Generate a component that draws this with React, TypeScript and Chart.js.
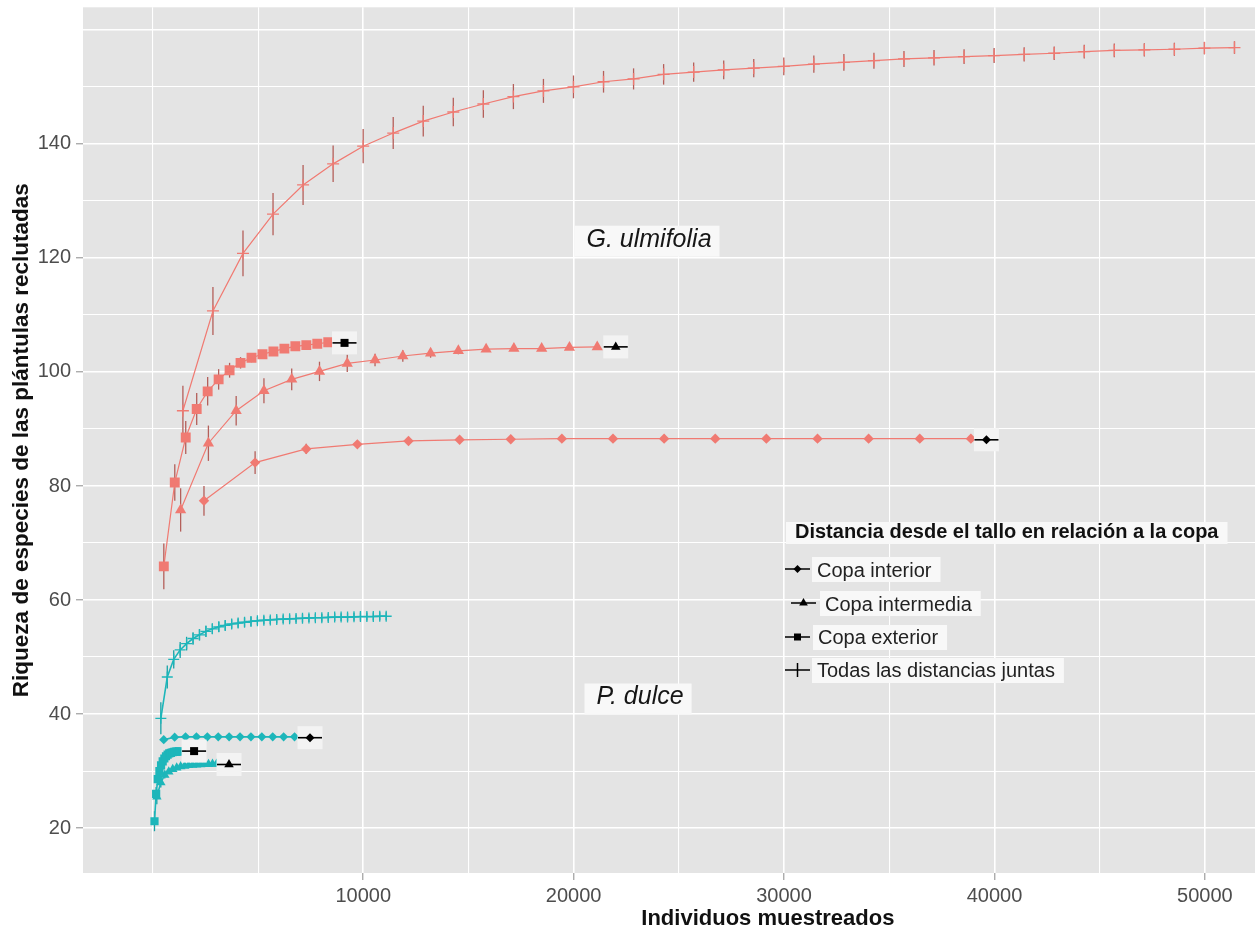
import React, { useEffect, useRef } from 'react';
import { Chart, registerables } from 'chart.js';

Chart.register(...registerables);

const FONT = '"Liberation Sans", Arial, Helvetica, sans-serif';

// ---------- axes ----------
const xGridValues = [0, 5000, 10000, 15000, 20000, 25000, 30000, 35000, 40000, 45000, 50000, 55000, 60000];
const xTickLabels = [10000, 20000, 30000, 40000, 50000];
const yGridValues = [20, 30, 40, 50, 60, 70, 80, 90, 100, 110, 120, 130, 140, 150, 160];
const yTickLabels = [20, 40, 60, 80, 100, 120, 140];
const xTitle = 'Individuos muestreados';
const yTitle = 'Riqueza de especies de las plántulas reclutadas';

// ---------- G. ulmifolia ----------
const gulmTodasX = [1428, 2856, 4284, 5712, 7140, 8568, 9996, 11424, 12852, 14280, 15708, 17136, 18564, 19992, 21420, 22848, 24276, 25704, 27132, 28560, 29988, 31416, 32844, 34272, 35700, 37128, 38556, 39984, 41412, 42840, 44268, 45696, 47124, 48552, 49980, 51408];
const gulmTodasY = [93.2, 110.7, 120.8, 127.7, 132.8, 136.5, 139.6, 141.9, 144.0, 145.6, 147.0, 148.3, 149.3, 150.0, 150.9, 151.4, 152.2, 152.6, 153.0, 153.3, 153.6, 154.0, 154.3, 154.6, 154.9, 155.1, 155.3, 155.5, 155.7, 155.9, 156.2, 156.4, 156.5, 156.6, 156.8, 156.9];
const gulmTodasErr = [4.4, 4.2, 4.0, 3.7, 3.5, 3.2, 3.0, 2.8, 2.7, 2.5, 2.4, 2.2, 2.1, 2.0, 1.9, 1.85, 1.8, 1.7, 1.65, 1.6, 1.55, 1.5, 1.45, 1.4, 1.4, 1.35, 1.3, 1.3, 1.25, 1.2, 1.2, 1.2, 1.15, 1.15, 1.1, 1.1];

const gulmExtX = [521, 1042, 1563, 2084, 2605, 3126, 3647, 4168, 4689, 5210, 5731, 6252, 6773, 7294, 7815, 8336];
const gulmExtY = [65.9, 80.6, 88.5, 93.5, 96.6, 98.7, 100.3, 101.6, 102.5, 103.1, 103.6, 104.1, 104.5, 104.7, 104.95, 105.2];
const gulmExtErr = [4.0, 3.2, 2.9, 2.8, 2.5, 1.8, 1.3, 1.0, 0.8, 0.6, 0.5, 0.4, 0.3, 0.2, 0.1, 0];

const gulmIntX = [1320, 2640, 3960, 5280, 6600, 7920, 9240, 10560, 11880, 13200, 14520, 15840, 17160, 18480, 19800, 21120];
const gulmIntY = [75.8, 87.5, 93.2, 96.7, 98.7, 100.1, 101.5, 102.1, 102.8, 103.3, 103.7, 104.0, 104.1, 104.1, 104.3, 104.4];
const gulmIntErr = [3.8, 3.1, 2.6, 2.2, 1.9, 1.7, 1.5, 1.1, 1.0, 0.8, 0.6, 0.5, 0.4, 0.3, 0.2, 0];

const gulmInnX = [2430, 4860, 7290, 9720, 12150, 14580, 17010, 19440, 21870, 24300, 26730, 29160, 31590, 34020, 36450, 38880];
const gulmInnY = [77.4, 84.1, 86.5, 87.3, 87.9, 88.1, 88.2, 88.3, 88.3, 88.3, 88.3, 88.3, 88.3, 88.3, 88.3, 88.3];
const gulmInnErr = [2.6, 2.0, 0.9, 0.6, 0.4, 0.3, 0.2, 0.1, 0.1, 0, 0, 0, 0, 0, 0, 0];

// ---------- P. dulce ----------
const pdulTodasX = [380, 686, 992, 1298, 1604, 1910, 2216, 2522, 2828, 3134, 3440, 3746, 4052, 4358, 4664, 4970, 5276, 5582, 5888, 6194, 6500, 6806, 7112, 7418, 7724, 8030, 8336, 8642, 8948, 9254, 9560, 9866, 10172, 10478, 10784, 11090];
const pdulTodasY = [39.25, 46.5, 49.6, 51.25, 52.35, 53.25, 53.9, 54.5, 54.95, 55.3, 55.55, 55.8, 55.95, 56.1, 56.25, 56.35, 56.45, 56.5, 56.6, 56.65, 56.7, 56.75, 56.8, 56.85, 56.9, 56.9, 56.95, 57.0, 57.0, 57.0, 57.05, 57.1, 57.1, 57.1, 57.15, 57.15];
const pdulTodasErr = [2.8, 2.0, 1.6, 1.4, 1.2, 1.1, 1.0, 1.0, 0.9, 0.9, 0.9, 0.8, 0.8, 0.8, 0.8, 0.7, 0.7, 0.7, 0.7, 0.7, 0.7, 0.7, 0.7, 0.7, 0.7, 0.7, 0.7, 0.7, 0.7, 0.7, 0.7, 0.7, 0.7, 0.7, 0.7, 0.7];

const pdulInnX = [518, 1036, 1554, 2072, 2590, 3108, 3626, 4144, 4662, 5180, 5698, 6216, 6734];
const pdulInnY = [35.5, 35.95, 36.0, 36.0, 36.0, 36.0, 36.0, 36.0, 36.0, 36.0, 36.0, 36.0, 36.0];
const pdulInnErr = [0.3, 0, 0, 0, 0, 0, 0, 0, 0, 0, 0, 0, 0];

const pdulExtX = [78, 156, 234, 312, 390, 468, 546, 624, 702, 780, 858, 936, 1014, 1092, 1170, 1248];
const pdulExtY = [21.2, 26.0, 28.6, 30.0, 31.0, 31.7, 32.2, 32.6, 32.9, 33.1, 33.2, 33.3, 33.35, 33.4, 33.4, 33.45];
const pdulExtErr = [1.75, 1.2, 0.9, 0.7, 0.5, 0.4, 0.3, 0.2, 0.1, 0, 0, 0, 0, 0, 0, 0];

const pdulIntX = [189, 378, 567, 756, 945, 1134, 1323, 1512, 1701, 1890, 2079, 2268, 2457, 2646, 2835, 3024];
const pdulIntY = [25.5, 28.0, 29.3, 29.9, 30.3, 30.6, 30.8, 30.9, 31.0, 31.05, 31.1, 31.15, 31.2, 31.2, 31.25, 31.25];
const pdulIntErr = [1.3, 0.9, 0.6, 0.4, 0.3, 0.2, 0.1, 0, 0, 0, 0, 0, 0, 0, 0, 0];

// ---------- end-of-curve keys ----------
const endX = [39620, 22000, 9110, 7470, 3620, 1960];
const endY = [88.1, 104.4, 105.1, 35.85, 31.15, 33.5];
const endShapes = ['diamond', 'triangle', 'square', 'diamond', 'triangle', 'square'];

// ---------- region labels ----------
const regionLabels = ['G. ulmifolia', 'P. dulce'];
const regionX = [23582, 23155];
const regionY = [123.2, 42.9];

// ---------- legend ----------
const legendTitle = 'Distancia desde el tallo en relación a la copa';
const legendLabels = ['Copa interior', 'Copa intermedia', 'Copa exterior', 'Todas las distancias juntas'];
const legendShapes = ['diamond', 'triangle', 'square', 'cross'];

const PINK = '#F07A72';
const PINK_BAR = '#b45f5a';
const TEAL = '#1DB6BA';
const TEAL_BAR = '#18a2a6';

function pts(xs: number[], ys: number[]) {
  return xs.map((x, i) => ({ x, y: ys[i] }));
}

function drawShape(ctx: CanvasRenderingContext2D, shape: string, x: number, y: number, r: number) {
  ctx.beginPath();
  if (shape === 'diamond') {
    ctx.moveTo(x, y - r); ctx.lineTo(x + r, y); ctx.lineTo(x, y + r); ctx.lineTo(x - r, y); ctx.closePath(); ctx.fill();
  } else if (shape === 'triangle') {
    ctx.moveTo(x, y - r); ctx.lineTo(x + r * 0.866, y + r * 0.5); ctx.lineTo(x - r * 0.866, y + r * 0.5); ctx.closePath(); ctx.fill();
  } else if (shape === 'square') {
    ctx.rect(x - r, y - r, 2 * r, 2 * r); ctx.fill();
  } else if (shape === 'cross') {
    ctx.moveTo(x - r, y); ctx.lineTo(x + r, y); ctx.moveTo(x, y - r); ctx.lineTo(x, y + r); ctx.stroke();
  }
}

const panelPlugin = {
  id: 'panelBg',
  beforeDraw(chart: any) {
    const { ctx, chartArea: a } = chart;
    ctx.save();
    ctx.fillStyle = '#ffffff';
    ctx.fillRect(0, 0, chart.width, chart.height);
    ctx.fillStyle = '#e4e4e4';
    ctx.fillRect(a.left, a.top, a.right - a.left, a.bottom - a.top);
    ctx.restore();
  },
};

const errorBarPlugin = {
  id: 'errorBars',
  beforeDatasetsDraw(chart: any) {
    const { ctx } = chart;
    const ys = chart.scales.y;
    chart.data.datasets.forEach((ds: any, di: number) => {
      const errs: number[] = ds.errors;
      if (!errs) return;
      const meta = chart.getDatasetMeta(di);
      ctx.save();
      ctx.strokeStyle = ds.errorColor;
      ctx.lineWidth = 1.3;
      meta.data.forEach((el: any, i: number) => {
        const e = errs[i];
        if (!e) return;
        const v = ds.data[i].y;
        ctx.beginPath();
        ctx.moveTo(el.x, ys.getPixelForValue(v - e));
        ctx.lineTo(el.x, ys.getPixelForValue(v + e));
        ctx.stroke();
      });
      ctx.restore();
    });
  },
};

const annotationPlugin = {
  id: 'annotations',
  afterDraw(chart: any) {
    const { ctx } = chart;
    const xs = chart.scales.x;
    const ys = chart.scales.y;
    ctx.save();

    // end-of-curve black keys
    endX.forEach((vx, i) => {
      const px = xs.getPixelForValue(vx);
      const py = ys.getPixelForValue(endY[i]);
      ctx.fillStyle = '#f3f3f3';
      ctx.fillRect(px - 12.5, py - 11.5, 25, 23);
      ctx.strokeStyle = '#000';
      ctx.lineWidth = 1.6;
      ctx.beginPath(); ctx.moveTo(px - 12, py); ctx.lineTo(px + 12, py); ctx.stroke();
      ctx.fillStyle = '#000';
      const s = endShapes[i];
      drawShape(ctx, s, px, py, s === 'diamond' ? 4.5 : s === 'triangle' ? 5.5 : 4);
    });

    // region labels
    ctx.font = `italic 25px ${FONT}`;
    ctx.textAlign = 'center';
    ctx.textBaseline = 'middle';
    regionLabels.forEach((t, i) => {
      const cx = xs.getPixelForValue(regionX[i]);
      const cy = ys.getPixelForValue(regionY[i]);
      const w = ctx.measureText(t).width;
      ctx.fillStyle = '#f8f8f8';
      ctx.fillRect(cx - w / 2 - 12, cy - 14, w + 20, 31);
      ctx.fillStyle = '#161616';
      ctx.fillText(t, cx, cy);
    });

    // legend
    ctx.textAlign = 'left';
    ctx.textBaseline = 'alphabetic';
    ctx.font = `bold 20px ${FONT}`;
    const tw = ctx.measureText(legendTitle).width;
    ctx.fillStyle = '#f8f8f8';
    ctx.fillRect(786, 522, tw + 18, 22);
    ctx.fillStyle = '#111';
    ctx.fillText(legendTitle, 795, 538);

    const rowKeyY = [569, 603, 637, 670];
    const rowKeyX = [785, 791, 785, 785];
    const rowTextX = [817, 825, 818, 817];
    const rowBase = [576.5, 610.5, 644, 676.5];
    ctx.font = `20px ${FONT}`;
    legendLabels.forEach((t, i) => {
      const w = ctx.measureText(t).width;
      ctx.fillStyle = '#f8f8f8';
      ctx.fillRect(rowTextX[i] - 5, rowKeyY[i] - 12, w + 14, 25);
      ctx.fillStyle = '#222';
      ctx.fillText(t, rowTextX[i], rowBase[i]);
      const kx = rowKeyX[i];
      const ky = rowKeyY[i];
      ctx.strokeStyle = '#000';
      ctx.fillStyle = '#000';
      ctx.lineWidth = 1.5;
      ctx.beginPath(); ctx.moveTo(kx, ky); ctx.lineTo(kx + 25, ky); ctx.stroke();
      const s = legendShapes[i];
      if (s === 'cross') {
        ctx.beginPath(); ctx.moveTo(kx + 12.5, ky - 7); ctx.lineTo(kx + 12.5, ky + 7); ctx.stroke();
      } else {
        drawShape(ctx, s, kx + 12.5, ky, s === 'diamond' ? 4 : s === 'triangle' ? 5 : 3.5);
      }
    });
    ctx.restore();
  },
};

function lineDs(label: string, xs: number[], ys: number[], errs: number[], color: string, barColor: string, style: string, radius: number, lw: number) {
  return {
    label,
    data: pts(xs, ys),
    errors: errs,
    errorColor: barColor,
    borderColor: color,
    backgroundColor: color,
    borderWidth: lw,
    pointStyle: style,
    pointRadius: radius,
    pointHoverRadius: radius,
    pointBackgroundColor: color,
    pointBorderColor: color,
    pointBorderWidth: style === 'cross' ? 1.3 : 0,
    tension: 0,
    fill: false,
  };
}

export default function App() {
  const ref = useRef<HTMLCanvasElement>(null);

  useEffect(() => {
    if (!ref.current) return;
    const isXMajor = (v: number) => xTickLabels.includes(v);
    const isYMajor = (v: number) => yTickLabels.includes(v);

    const chart = new Chart(ref.current, {
      type: 'line',
      data: {
        datasets: [
          lineDs('G. ulmifolia Todas', gulmTodasX, gulmTodasY, gulmTodasErr, PINK, PINK_BAR, 'cross', 6, 1.2),
          lineDs('G. ulmifolia Copa exterior', gulmExtX, gulmExtY, gulmExtErr, PINK, PINK_BAR, 'rect', 7, 1.2),
          lineDs('G. ulmifolia Copa intermedia', gulmIntX, gulmIntY, gulmIntErr, PINK, PINK_BAR, 'triangle', 6.5, 1.2),
          lineDs('G. ulmifolia Copa interior', gulmInnX, gulmInnY, gulmInnErr, PINK, PINK_BAR, 'rectRot', 5.2, 1.2),
          lineDs('P. dulce Todas', pdulTodasX, pdulTodasY, pdulTodasErr, TEAL, TEAL_BAR, 'cross', 5.5, 1.6),
          lineDs('P. dulce Copa interior', pdulInnX, pdulInnY, pdulInnErr, TEAL, TEAL_BAR, 'rectRot', 4.6, 1.6),
          lineDs('P. dulce Copa exterior', pdulExtX, pdulExtY, pdulExtErr, TEAL, TEAL_BAR, 'rect', 5.8, 1.6),
          lineDs('P. dulce Copa intermedia', pdulIntX, pdulIntY, pdulIntErr, TEAL, TEAL_BAR, 'triangle', 5.5, 1.6),
        ] as any,
      },
      options: {
        animation: false,
        responsive: false,
        devicePixelRatio: 1,
        layout: { padding: { left: 0, right: 5, top: 6, bottom: 0 } },
        plugins: {
          legend: { display: false },
          tooltip: { enabled: false },
          title: { display: false },
        },
        scales: {
          x: {
            type: 'linear',
            min: -3320,
            max: 61780,
            border: { display: false },
            afterBuildTicks: (scale: any) => {
              scale.ticks = xGridValues.map((v) => ({ value: v }));
            },
            afterFit: (scale: any) => {
              scale.height = 57;
              scale.paddingLeft = 0; scale.paddingRight = 0; scale.paddingTop = 0; scale.paddingBottom = 0;
            },
            ticks: {
              autoSkip: false,
              maxRotation: 0,
              minRotation: 0,
              padding: 4,
              color: '#4d4d4d',
              font: { family: FONT, size: 20 },
              callback: (v: any) => (isXMajor(Number(v)) ? String(v) : ''),
            },
            grid: {
              color: '#ffffff',
              lineWidth: (c: any) => (c.tick && isXMajor(c.tick.value) ? 1.6 : 1.1),
              tickColor: (c: any) => (c.tick && isXMajor(c.tick.value) ? '#8a8a8a' : 'rgba(0,0,0,0)'),
              tickLength: 7,
              tickWidth: 1,
            },
            title: {
              display: true,
              text: xTitle,
              color: '#111',
              font: { family: FONT, size: 22, weight: 'bold', lineHeight: 1.0 },
              padding: { top: 0, bottom: 0 },
            },
          },
          y: {
            type: 'linear',
            min: 12.12,
            max: 163.96,
            border: { display: false },
            afterBuildTicks: (scale: any) => {
              scale.ticks = yGridValues.map((v) => ({ value: v }));
            },
            afterFit: (scale: any) => {
              scale.width = 83;
              scale.paddingLeft = 0; scale.paddingRight = 0; scale.paddingTop = 0; scale.paddingBottom = 0;
            },
            ticks: {
              autoSkip: false,
              padding: 5,
              color: '#4d4d4d',
              font: { family: FONT, size: 20 },
              callback: (v: any) => (isYMajor(Number(v)) ? String(v) : ''),
            },
            grid: {
              color: '#ffffff',
              lineWidth: (c: any) => (c.tick && (c.tick.value % 20 === 0) ? 1.6 : 1.1),
              tickColor: (c: any) => (c.tick && isYMajor(c.tick.value) ? '#8a8a8a' : 'rgba(0,0,0,0)'),
              tickLength: 7,
              tickWidth: 1,
            },
            title: {
              display: true,
              text: yTitle,
              color: '#111',
              font: { family: FONT, size: 22.5, weight: 'bold', lineHeight: 1.0 },
              padding: { top: 11, bottom: 0 },
            },
          },
        },
      } as any,
      plugins: [panelPlugin, errorBarPlugin, annotationPlugin],
    });
    return () => chart.destroy();
  }, []);

  return (
    <div style={{ position: 'fixed', left: 0, top: 0, width: 1255, height: 930, overflow: 'hidden', background: '#ffffff' }}>
      <canvas ref={ref} width={1460} height={930} style={{ display: 'block', width: 1460, height: 930 }} />
    </div>
  );
}
